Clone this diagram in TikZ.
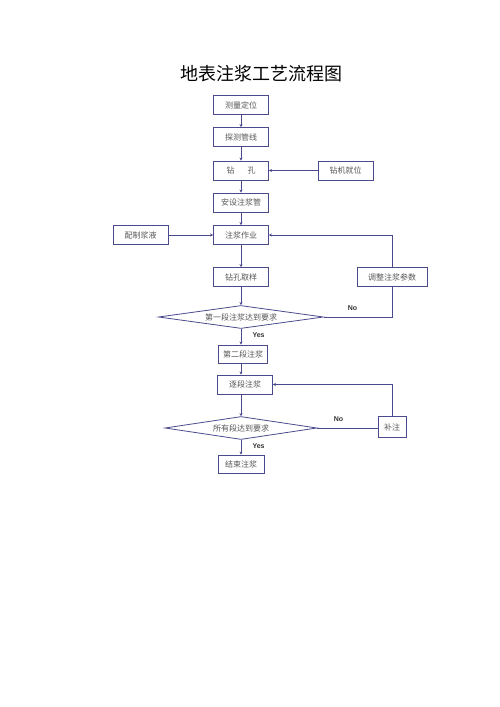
\documentclass[tikz,border=0pt]{standalone}
\usepackage{fontspec}
\setmainfont{Liberation Sans}
\newfontfamily\cjk{Noto Sans CJK SC}
\usetikzlibrary{arrows.meta,shapes.geometric}
\definecolor{linec}{HTML}{4A4A8C}
\definecolor{txtc}{HTML}{555555}

\begin{document}
\begin{tikzpicture}[x=1pt, y=-1pt, >={Stealth[length=3pt,width=3pt]},
  declare function={mx=241;},
  box/.style={draw=linec, line width=0.8pt, minimum width=55, minimum height=19,
              inner sep=0pt, text=txtc, font=\cjk\fontsize{8}{9}\selectfont},
  test/.style={box, shape=diamond, aspect=7, minimum width=165, minimum height=23},
  flow/.style={draw=linec, line width=0.7pt},
  tag/.style={font=\fontsize{7}{8}\selectfont\bfseries, text=black!80}]
\useasboundingbox (0,0) rectangle (500,707);

% 1. Title
\node (title) at (261,74) {\cjk\fontsize{18}{20}\selectfont 地表注浆工艺流程图};

% 2. main column
\node[box] (meas)   at (mx,105)   {测量定位};
\node[box] (probe)  at (mx,137)   {探测管线};
\node[box] (drill)  at (mx,170.5) {钻\hspace{13pt}孔};
\node[box] (pipe)   at (mx,202.5) {安设注浆管};
\node[box] (grout)  at (mx,235)   {注浆作业};
\node[box] (sample) at (mx,277)   {钻孔取样};
\node[test] (chk-1) at (mx,317)   {第一段注浆达到要求};
\node[box, minimum width=49, minimum height=18] (second) at (mx+2,354) {第二段注浆};
\node[box] (each)   at (mx+4,384.5) {逐段注浆};
\node[test, minimum width=152] (chk-2) at (mx,428) {所有段达到要求};
\node[box, minimum width=46, minimum height=18] (end) at (mx,464) {结束注浆};

% 3. side boxes
\node[box] (rig)    at (345.5,170.5) {钻机就位};
\node[box] (mix)    at (140.5,235)   {配制浆液};
\node[box, minimum width=70] (adjust) at (392,277) {调整注浆参数};
\node[box, minimum width=28, minimum height=21] (fill) at (392,427) {补注};

% 4. arrows down the column
\foreach \a/\b in {meas/probe, probe/drill, drill/pipe, pipe/grout, grout/sample,
                   sample/chk-1, chk-1/second, second/each, each/chk-2, chk-2/end}
  \draw[flow, ->] (\a.south -| mx,0) -- (\b.north -| mx,0);

% 4.1. the Yes marks
\node[tag, anchor=west] (yes-1) at (mx+8,335) {Yes};
\node[tag, anchor=west] (yes-2) at (mx+8,446) {Yes};

% 5. arrows from the side
\draw[flow, ->] (rig) -- (drill);
\draw[flow, ->] (mix) -- (grout);
\draw[flow, ->] (adjust.north) |- (grout.east);
\draw[flow] (chk-1.east) -| (adjust.south)
  node[tag, pos=.21, above=3pt] (no-1) {No};
\draw[flow] (chk-2.east) -- (chk-2.east -| fill.west)
  node[tag, pos=.35, above=3pt] (no-2) {No};
\draw[flow, ->] (fill.north) |- (each.east);
\end{tikzpicture}
\end{document}
